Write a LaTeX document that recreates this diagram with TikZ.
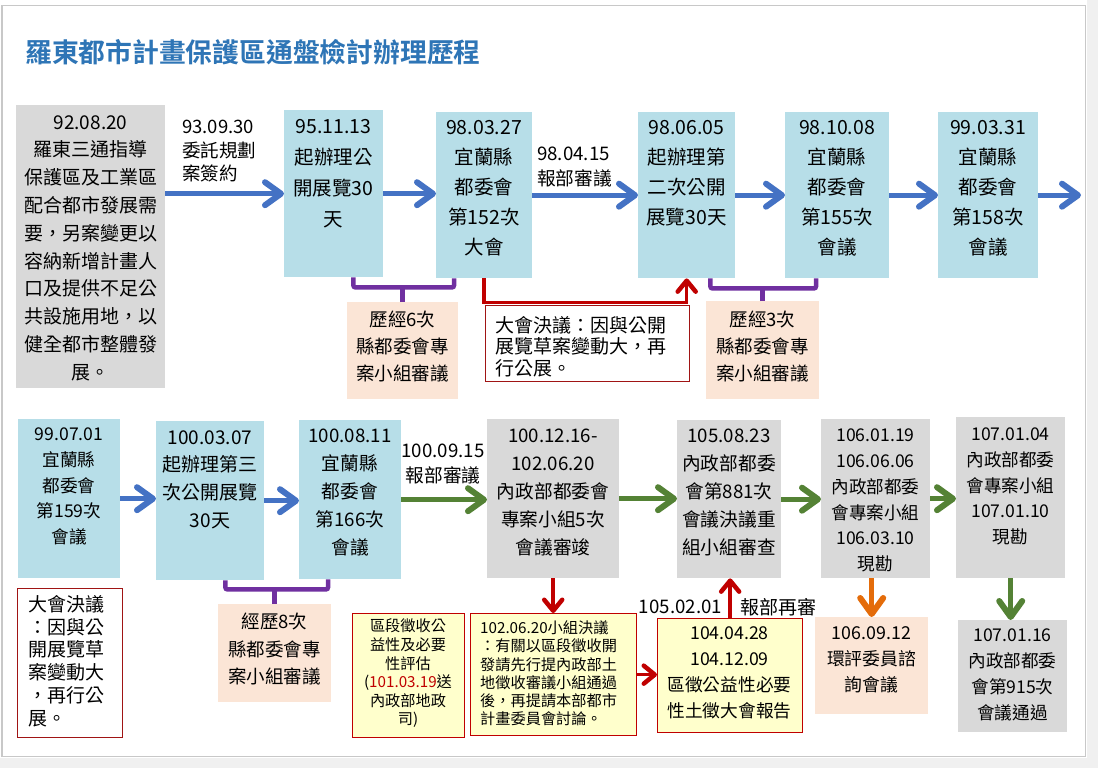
\documentclass[tikz,border=0pt]{standalone}
\usepackage{fontspec}
\setmainfont{Noto Sans CJK TC}[BoldFont={Noto Sans CJK TC Bold}]
\usetikzlibrary{positioning,arrows.meta,calc}

\definecolor{stageblue}{RGB}{183,222,232}
\definecolor{stagegray}{RGB}{217,217,217}
\definecolor{notepeach}{RGB}{251,229,214}
\definecolor{noteyellow}{RGB}{255,255,204}
\definecolor{flowblue}{RGB}{68,114,196}
\definecolor{flowgreen}{RGB}{84,130,53}
\definecolor{flowred}{RGB}{192,0,0}
\definecolor{darkred}{RGB}{160,20,20}
\definecolor{flowpurple}{RGB}{112,48,160}
\definecolor{floworange}{RGB}{228,108,10}
\definecolor{titleblue}{RGB}{46,117,182}
\definecolor{framegray}{RGB}{200,200,200}
\definecolor{pagegray}{RGB}{240,240,240}

\newcommand{\fsz}[2]{\fontsize{#1}{#2}\selectfont}

\begin{document}
\begin{tikzpicture}[
  x=1pt, y=-1pt,
  sbox/.style={rectangle, inner sep=0pt, anchor=north west},
  redbox/.style={sbox, draw=#1, line width=1.3pt},
  txt/.style={align=center, inner sep=0pt},
  lbl/.style={align=left, inner sep=0pt},
  flow/.style={draw=#1, line width=5pt,
    -{Straight Barb[length=16pt, width=23pt, line width=6pt, round]}},
  thin flow/.style={draw=#1, line width=3.5pt,
    -{Straight Barb[length=11pt, width=18pt, line width=4.5pt, round]}},
  brace/.style={draw=flowpurple, line width=4.5pt, rounded corners=2pt},
]
\useasboundingbox (0,0) rectangle (1098,768);
\fill[pagegray] (0,0) rectangle (1098,768);
\fill[white] (0,0) rectangle (1086.5,757.5);
\draw[framegray, line width=1.5pt] (2,5.5) rectangle (1085.5,756.5);

\node[anchor=west, inner sep=0pt, text=titleblue, font=\bfseries\fsz{26.8}{30}] (title)
  at (25,52) {羅東都市計畫保護區通盤檢討辦理歷程};

% ---- stage boxes: name/x/y/width/height/fill ----
\foreach \name/\x/\y/\w/\h/\col in {%
  sA/16/105/149/283/stagegray,
  sB/284/110/99/167/stageblue,
  sC/436/112/96/166/stageblue,
  sD/638/112/97/166/stageblue,
  sE/785/112/104/166/stageblue,
  sF/938/112/100/166/stageblue,
  sH/18/419/102/159/stageblue,
  sI/156/421/108/159/stageblue,
  sJ/299/420/102/159/stageblue,
  sK/487/419/132/159/stagegray,
  sL/677/420/104/158/stagegray,
  sM/821/419/109/159/stagegray,
  sN/956/417/109/161/stagegray,
  sO/958/620/109/112/stagegray,
  nG/347/302/111/97/notepeach,
  nV/706/301/113/98/notepeach,
  nU/218/604/113/98/notepeach,
  nP/815/617/113/97/notepeach}{
    \node[sbox, fill=\col, minimum width=\w pt, minimum height=\h pt] (\name) at (\x,\y) {};
}
% red-framed notes: name/x/y/width/height/fill/edge
\foreach \name/\x/\y/\w/\h/\col/\edge in {%
  nC/485/305/204/76/white/darkred,
  nT/17/588/105/149/white/darkred,
  nS/352/613/112/124/noteyellow/flowred,
  nQ/470/613/166/122/noteyellow/flowred,
  nR/657/618/145/114/noteyellow/flowred}{
    \node[redbox=\edge, fill=\col, minimum width=\w pt, minimum height=\h pt] (\name) at (\x,\y) {};
}

% ---- texts, row 1 ----
\node[txt, font=\fsz{19}{27.8}] (tA) at (90.5,248)
  {92.08.20\\羅東三通指導\\保護區及工業區\\配合都市發展需\\要，另案變更以\\容納新增計畫人\\口及提供不足公\\共設施用地，以\\健全都市整體發\\展。};
\node[txt, font=\fsz{19.5}{31}] (tB) at (333.5,173.5) {95.11.13\\起辦理公\\開展覽30\\天};
\node[txt, font=\fsz{19.5}{30}] (tC) at (484,188) {98.03.27\\宜蘭縣\\都委會\\第152次\\大會};
\node[txt, font=\fsz{19.5}{30}] (tD) at (686.5,173) {98.06.05\\起辦理第\\二次公開\\展覽30天};
\node[txt, font=\fsz{19.5}{30}] (tE) at (837,188) {98.10.08\\宜蘭縣\\都委會\\第155次\\會議};
\node[txt, font=\fsz{19.5}{30}] (tF) at (988,188) {99.03.31\\宜蘭縣\\都委會\\第158次\\會議};
\node[txt, font=\fsz{18.5}{27}] (tG) at (402.5,347) {歷經6次\\縣都委會專\\案小組審議};
\node[txt, font=\fsz{18.5}{27}] (tV) at (762.5,347) {歷經3次\\縣都委會專\\案小組審議};
\node[lbl, anchor=west, font=\fsz{19}{21.5}] (tNC) at (495,346.5)
  {大會決議：因與公開\\展覽草案變動大，再\\行公展。};
\node[lbl, anchor=west, font=\fsz{18.5}{23.5}] (l1) at (182,151.5) {93.09.30\\委託規劃\\案簽約};
\node[lbl, anchor=west, font=\fsz{18.7}{25}] (l2) at (537,167.5) {98.04.15\\報部審議};

% ---- texts, row 2 ----
\node[txt, font=\fsz{17.6}{25.8}] (tH) at (69,486.5) {99.07.01\\宜蘭縣\\都委會\\第159次\\會議};
\node[txt, font=\fsz{19}{27.7}] (tI) at (210,479.5) {100.03.07\\起辦理第三\\次公開展覽\\30天};
\node[txt, font=\fsz{18.7}{27.8}] (tJ) at (350,492.5) {100.08.11\\宜蘭縣\\都委會\\第166次\\會議};
\node[txt, font=\fsz{18.7}{27.8}] (tK) at (553,492.5) {100.12.16-\\102.06.20\\內政部都委會\\專案小組5次\\會議審竣};
\node[txt, font=\fsz{18.7}{27.8}] (tL) at (729,492.5) {105.08.23\\內政部都委\\會第881次\\會議決議重\\組小組審查};
\node[txt, font=\fsz{17.6}{25.8}] (tM) at (875.5,500.5) {106.01.19\\106.06.06\\內政部都委\\會專案小組\\106.03.10\\現勘};
\node[txt, font=\fsz{17.6}{25.8}] (tN) at (1010.5,486.5) {107.01.04\\內政部都委\\會專案小組\\107.01.10\\現勘};
\node[txt, font=\fsz{17.6}{26}] (tO) at (1012.5,675) {107.01.16\\內政部都委\\會第915次\\會議通過};
\node[txt, font=\fsz{17.8}{26}] (tP) at (871.5,660) {106.09.12\\環評委員諮\\詢會議};
\node[txt, font=\fsz{18.5}{27.5}] (tU) at (274.5,649.5) {經歷8次\\縣都委會專\\案小組審議};
\node[lbl, anchor=west, font=\fsz{19}{22.8}] (tT) at (28,661) {大會決議\\：因與公\\開展覽草\\案變動大\\，再行公\\展。};
\node[txt, font=\fsz{15.2}{18.6}] (tS) at (408,673.5)
  {區段徵收公\\益性及必要\\性評估\\(\textcolor{flowred}{101.03.19}送\\內政部地政\\司)};
\node[lbl, anchor=west, font=\fsz{15.2}{18.2}] (tQ) at (480,673.5)
  {102.06.20小組決議\\：有關以區段徵收開\\發請先行提內政部土\\地徵收審議小組通過\\後，再提請本部都市\\計畫委員會討論。};
\node[txt, font=\fsz{17.7}{26}] (tR) at (729.5,673) {104.04.28\\104.12.09\\區徵公益性必要\\性土徵大會報告};
\node[txt, font=\fsz{18.7}{25}] (l3) at (443,464.5) {100.09.15\\報部審議};
\node[txt, font=\fsz{18.7}{22}] (l4) at (680.5,607) {105.02.01};
\node[txt, font=\fsz{19}{22}] (l5) at (778.5,607) {報部再審};

% ---- flow arrows ----
\coordinate (out) at (1081,194);
\draw[flow=flowblue] (sA.east |- sB.west) -- (sB.west);
\draw[flow=flowblue] (sB.east) -- (sC.west |- sB.east);
\draw[flow=flowblue] (sC.east) -- (sD.west |- sC.east);
\draw[flow=flowblue] (sD.east) -- (sE.west |- sD.east);
\draw[flow=flowblue] (sE.east) -- (sF.west |- sE.east);
\draw[flow=flowblue] (sF.east) -- (out |- sF.east);
\draw[flow=flowblue] (sH.east) -- (sI.west |- sH.east);
\draw[flow=flowblue] (sI.east) -- (sJ.west |- sI.east);
\draw[flow=flowgreen] (sJ.east) -- (sK.west |- sJ.east);
\draw[flow=flowgreen] (sK.east) -- (sL.west |- sK.east);
\draw[flow=flowgreen] (sL.east) -- (sM.west |- sL.east);
\draw[flow=flowgreen] (sM.east) -- (sN.west |- sM.east);
\draw[flow=flowgreen] (sN.south) -- (sO.north -| sN.south);
\draw[flow=floworange] (sM.south -| nP.north) -- (nP.north);
\draw[thin flow=flowred] (sK.south) -- (nQ.north -| sK.south);
\draw[thin flow=flowred] (nQ.east) -- (nR.west |- nQ.east);
\draw[thin flow=flowred] (nR.north) -- (sL.south -| nR.north);
\draw[thin flow=flowred] (sC.south) -- ++(0,24) -| (sD.south);

% ---- brackets ----
\draw[brace] ($(sB.south east)+(-30,0)$) -- ++(0,10) -| ($(sC.south west)+(18,0)$);
\draw[brace] (nG.north) -- ++(0,-14);
\draw[brace] ($(sD.south east)+(-25,0)$) -- ++(0,10) -| ($(sE.south west)+(31,0)$);
\draw[brace] (nV.north) -- ++(0,-13);
\draw[brace] ($(sI.south east)+(-39,0)$) -- ++(0,9) -| ($(sJ.south west)+(29,0)$);
\draw[brace] (nU.north) -- ++(0,-15);
\end{tikzpicture}
\end{document}
